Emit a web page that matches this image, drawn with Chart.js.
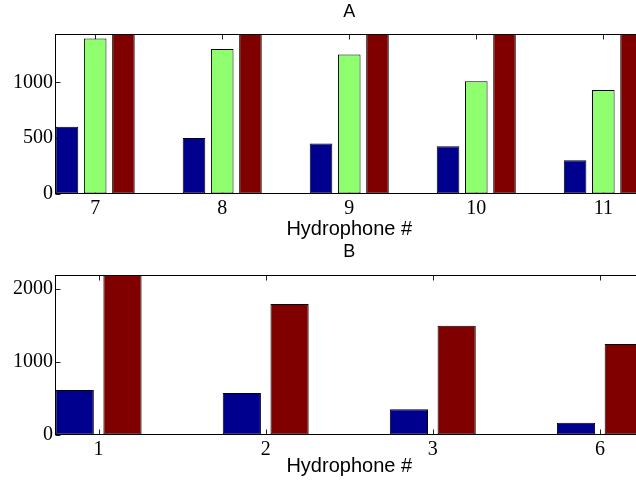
<!DOCTYPE html>
<html>
<head>
<meta charset="utf-8">
<script src="https://cdn.jsdelivr.net/npm/chart.js@4/dist/chart.umd.min.js"></script>
<style>
  html, body { margin: 0; padding: 0; background: #fff; overflow: hidden; }
  .panel { position: absolute; left: 0; }
  #panelA { top: 0; }
  #panelB { top: 240px; }
</style>
</head>
<body>
<div class="panel" id="panelA"><canvas id="chartA" width="660" height="240"></canvas></div>
<div class="panel" id="panelB"><canvas id="chartB" width="660" height="243"></canvas></div>
<script>
// panel A: hydrophones 7..11, three series
const hydroA = [7, 8, 9, 10, 11];
const blueA = [600, 500, 450, 425, 300];
const greenA = [1395, 1300, 1250, 1010, 930];
const redA = [1900, 1750, 1650, 1600, 1500];
const yTicksA = [0, 500, 1000];
const yMaxA = 1430;

// panel B: hydrophones 1, 2, 3, 6, two series
const hydroB = ["1", "2", "3", "6"];
const blueB = [610, 570, 345, 160];
const redB = [2250, 1790, 1490, 1240];
const yTicksB = [0, 1000, 2000];
const yMaxB = 2180;

const BLUE = "#00008F";
const GREEN = "#8FFF70";
const RED = "#800000";

const serif = "'Liberation Serif', 'Times New Roman', serif";
const sans = "'Liberation Sans', Arial, sans-serif";

// matlab style box: frame on all sides, ticks pointing inward
const axesBox = {
  id: "axesBox",
  beforeDatasetsDraw(chart) {
    const { ctx, chartArea: a, scales: { x, y } } = chart;
    ctx.save();
    ctx.strokeStyle = "#222";
    ctx.lineWidth = 1;
    ctx.beginPath();
    x.ticks.forEach(t => {
      const px = Math.round(x.getPixelForValue(t.value)) + 0.5;
      ctx.moveTo(px, a.bottom); ctx.lineTo(px, a.bottom - 5);
      ctx.moveTo(px, a.top); ctx.lineTo(px, a.top + 5);
    });
    y.ticks.forEach(t => {
      const py = Math.round(y.getPixelForValue(t.value)) + 0.5;
      ctx.moveTo(a.left, py); ctx.lineTo(a.left + 5, py);
      ctx.moveTo(a.right, py); ctx.lineTo(a.right - 5, py);
    });
    ctx.stroke();
    ctx.restore();
  },
  afterDatasetsDraw(chart) {
    const { ctx, chartArea: a } = chart;
    ctx.save();
    ctx.strokeStyle = "#000";
    ctx.lineWidth = 1;
    ctx.strokeRect(a.left, a.top, a.right - a.left, a.bottom - a.top);
    ctx.restore();
  }
};

function bars(label, xs, ys, color) {
  return {
    label,
    data: ys.map((v, i) => ({ x: xs[i], y: v })),
    backgroundColor: color,
    borderColor: "#000",
    borderWidth: 1,
    borderSkipped: false,
    clip: 0
  };
}

function makeChart(id, opts) {
  return new Chart(document.getElementById(id), {
    type: "bar",
    data: { datasets: opts.datasets },
    options: {
      responsive: false,
      devicePixelRatio: 1,
      animation: false,
      layout: { padding: { left: 0, right: 17, top: 0, bottom: 0 } },
      datasets: {
        bar: { categoryPercentage: opts.groupWidth, barPercentage: 0.8, grouped: true }
      },
      plugins: {
        legend: { display: false },
        tooltip: { enabled: false },
        title: {
          display: true,
          text: opts.title,
          fullSize: false,
          color: "#000",
          font: { family: sans, size: 18, weight: "normal", lineHeight: 1.2 },
          padding: { top: 1.5, bottom: opts.titleGap }
        }
      },
      scales: {
        x: {
          type: "linear",
          offset: false,
          min: opts.xMin,
          max: opts.xMax,
          grid: { display: false, drawTicks: false },
          border: { display: false },
          afterBuildTicks: s => { s.ticks = opts.xPos.map(v => ({ value: v })); },
          afterFit: s => { s.height = opts.xHeight; },
          ticks: {
            autoSkip: false,
            maxRotation: 0,
            padding: 3,
            color: "#000",
            font: { family: serif, size: 20, lineHeight: 1.2 },
            callback: opts.xLabel
          },
          title: {
            display: true,
            text: "Hydrophone #",
            color: "#000",
            font: { family: sans, size: 20, lineHeight: 1 },
            padding: { top: 0, bottom: opts.xTitleGap }
          }
        },
        y: {
          min: 0,
          max: opts.yMax,
          grid: { display: false, drawTicks: false },
          border: { display: false },
          afterBuildTicks: s => { s.ticks = opts.yTicks.map(v => ({ value: v })); },
          afterFit: s => { s.width = 55.5; },
          ticks: {
            padding: 2.5,
            color: "#000",
            font: { family: serif, size: 20 },
            callback: v => String(v)
          }
        }
      }
    },
    plugins: [axesBox]
  });
}

const posB = hydroB.map((_, i) => i + 1);

makeChart("chartA", {
  title: "A",
  titleGap: 11.4,
  datasets: [
    bars("blue", hydroA, blueA, BLUE),
    bars("green", hydroA, greenA, GREEN),
    bars("red", hydroA, redA, RED)
  ],
  groupWidth: 2 / 3,
  xPos: hydroA,
  xMin: 6.6875,
  xMax: 11.3125,
  xLabel: v => String(v),
  xHeight: 46.5,
  xTitleGap: 1,
  yMax: yMaxA,
  yTicks: yTicksA
});

makeChart("chartB", {
  title: "B",
  titleGap: 12.4,
  datasets: [
    bars("blue", posB, blueB, BLUE),
    bars("red", posB, redB, RED)
  ],
  groupWidth: 2 / 3.5,
  xPos: posB,
  xMin: 0.742,
  xMax: 4.258,
  xLabel: v => hydroB[v - 1],
  xHeight: 48.5,
  xTitleGap: 7,
  yMax: yMaxB,
  yTicks: yTicksB
});
</script>
</body>
</html>
